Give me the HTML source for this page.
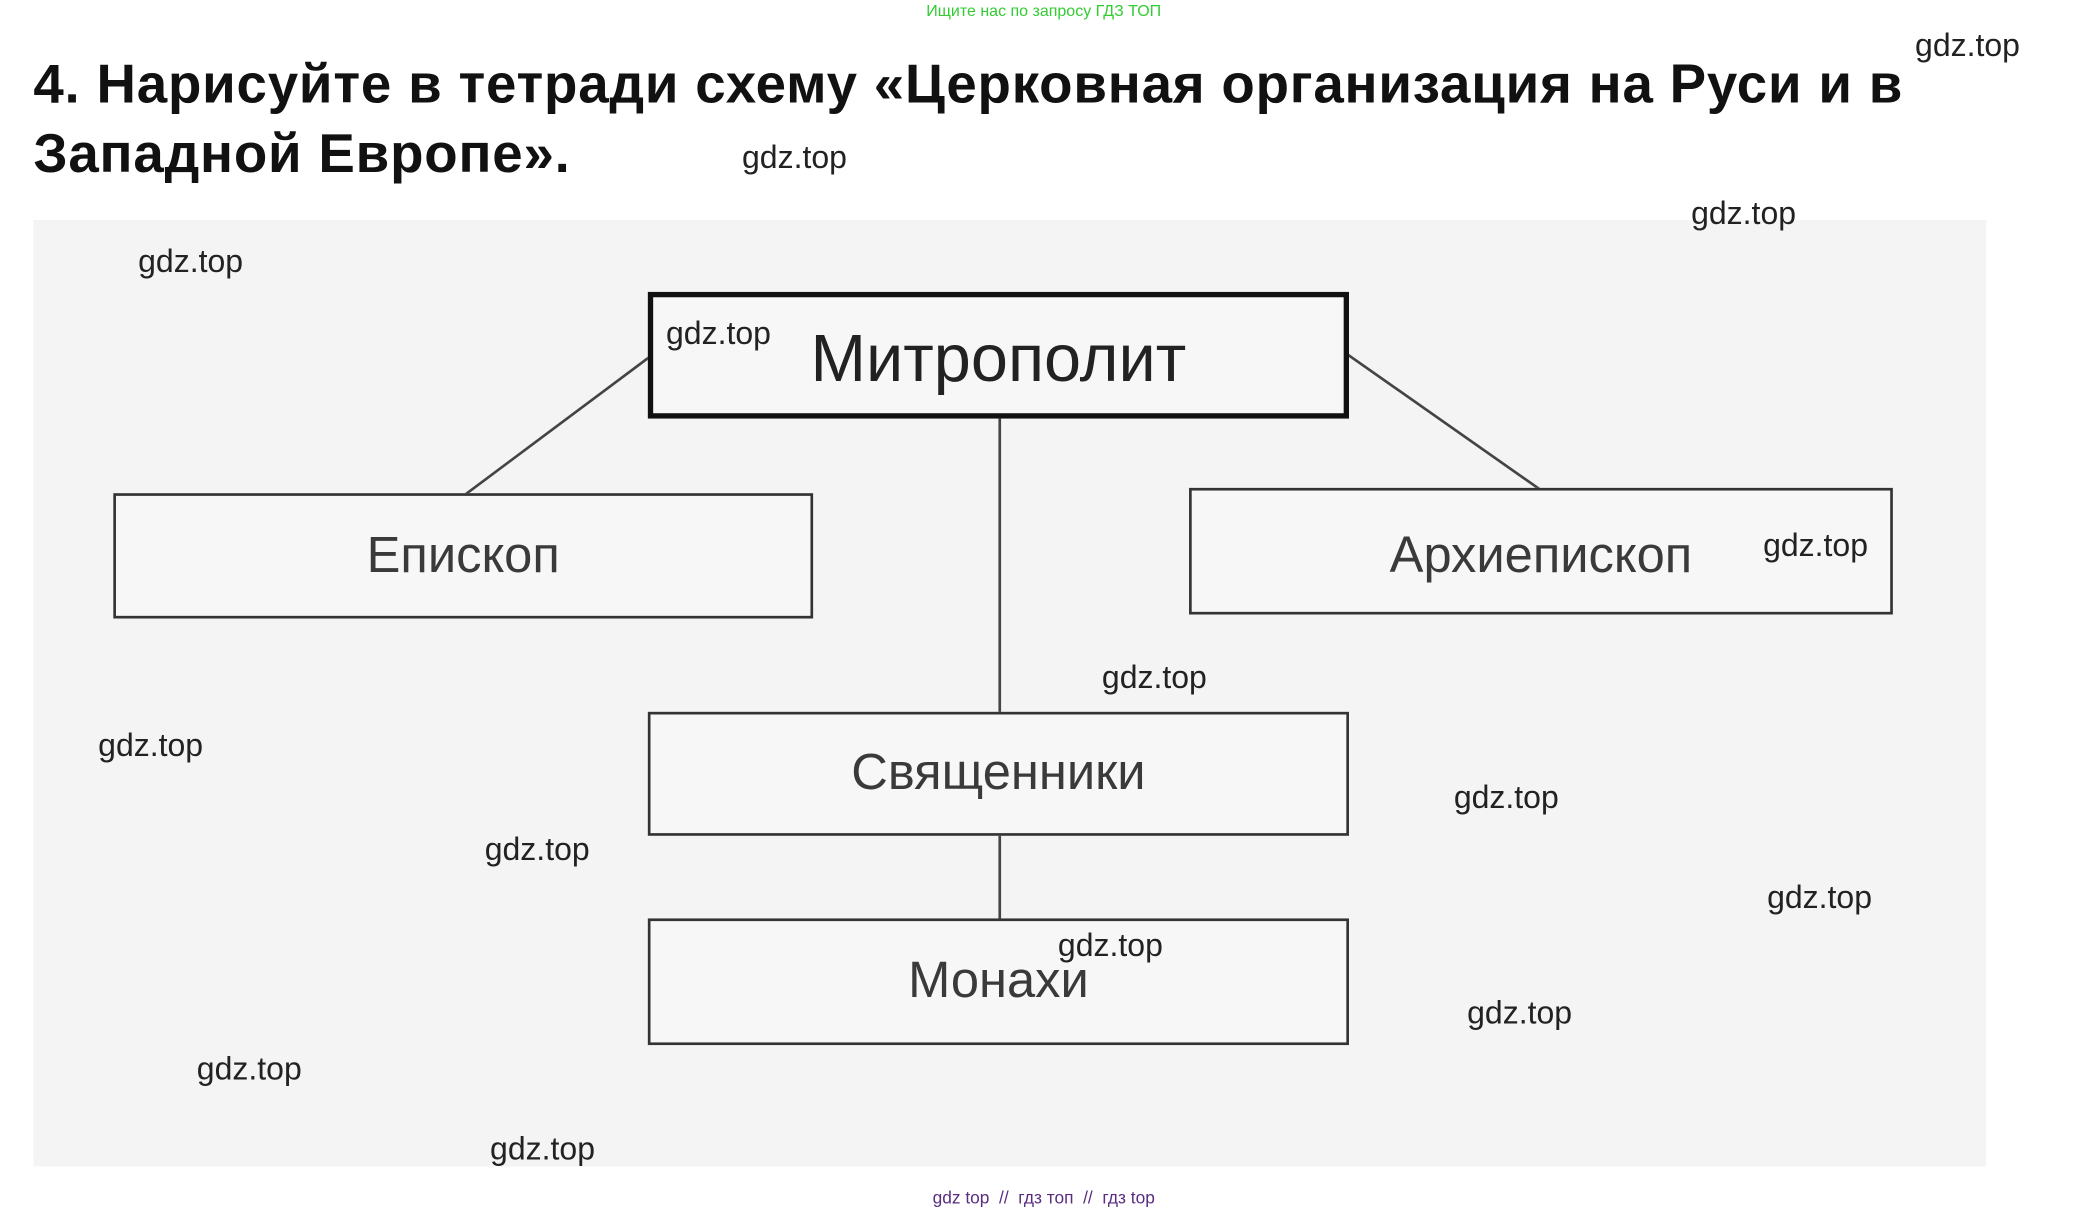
<!DOCTYPE html>
<html><head><meta charset="utf-8">
<style>
html,body{margin:0;padding:0;background:#fff;}
body{width:2088px;height:1213px;overflow:hidden;position:relative;}
#s{position:absolute;left:0;top:0;width:1566px;height:910px;transform-origin:0 0;transform:scale(1.333,1.333);font-family:"Liberation Sans",sans-serif;}
.a{position:absolute;white-space:nowrap;}
.w{position:absolute;font-size:24px;color:#222;transform:translate(-50%,-50%);white-space:nowrap;}
.b{position:absolute;box-sizing:border-box;border:2.5px solid #333;background:#f7f7f7;display:flex;align-items:center;justify-content:center;font-size:38px;color:#3a3a3a;}
</style></head><body>
<div id="s">
<div class="a" style="left:0;width:1566px;top:1px;text-align:center;font-size:12px;color:#33cc33;">Ищите нас по запросу ГДЗ ТОП</div>
<div class="a" style="left:25px;top:37px;font-size:41px;letter-spacing:0.6px;font-weight:bold;color:#111;line-height:52px;">4. Нарисуйте в тетради схему «Церковная организация на Руси и в<br>Западной Европе».</div>
<div class="a" style="left:25px;top:165px;width:1465px;height:710px;background:#f4f4f4;"></div>
<svg class="a" style="left:0;top:0" width="1566" height="910">
<g stroke="#444" stroke-width="2" fill="none">
<line x1="487" y1="268" x2="349" y2="371"/>
<line x1="1011" y1="266" x2="1155" y2="367"/>
<line x1="750" y1="313" x2="750" y2="535"/>
<line x1="750" y1="626" x2="750" y2="690"/>
</g></svg>
<div class="b" style="left:486px;top:219px;width:526px;height:95px;border:4px solid #111;font-size:50px;color:#222;padding-top:4px;">Митрополит</div>
<div class="b" style="left:85px;top:370px;width:525px;height:94px;">Епископ</div>
<div class="b" style="left:892px;top:366px;width:528px;height:95px;padding-top:8px;">Архиепископ</div>
<div class="b" style="left:486px;top:534px;width:526px;height:93px;">Священники</div>
<div class="b" style="left:486px;top:689px;width:526px;height:95px;">Монахи</div>
<div class="w" style="left:1476px;top:35px">gdz.top</div>
<div class="w" style="left:596px;top:119px">gdz.top</div>
<div class="w" style="left:1308px;top:161px">gdz.top</div>
<div class="w" style="left:143px;top:197px">gdz.top</div>
<div class="w" style="left:539px;top:251px">gdz.top</div>
<div class="w" style="left:1362px;top:410px">gdz.top</div>
<div class="w" style="left:866px;top:509px">gdz.top</div>
<div class="w" style="left:113px;top:560px">gdz.top</div>
<div class="w" style="left:1130px;top:599px">gdz.top</div>
<div class="w" style="left:403px;top:638px">gdz.top</div>
<div class="w" style="left:1365px;top:674px">gdz.top</div>
<div class="w" style="left:833px;top:710px">gdz.top</div>
<div class="w" style="left:1140px;top:761px">gdz.top</div>
<div class="w" style="left:187px;top:803px">gdz.top</div>
<div class="w" style="left:407px;top:863px">gdz.top</div>
<div class="a" style="left:0;width:1566px;top:891px;text-align:center;font-size:13px;color:#5a2d82;">gdz top &nbsp;// &nbsp;гдз топ &nbsp;// &nbsp;гдз top</div>
</div>
</body></html>
